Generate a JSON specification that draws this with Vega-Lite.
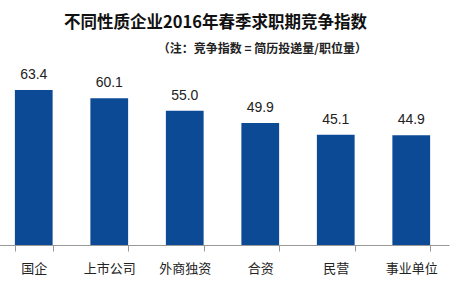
{
  "$schema": "https://vega.github.io/schema/vega-lite/v6.json",
  "autosize": "none",
  "width": 453,
  "height": 171,
  "padding": {"left": -4, "top": 74, "right": 19, "bottom": 41},
  "background": "white",
  "title": {
    "text": "不同性质企业2016年春季求职期竞争指数",
    "subtitle": "（注：竞争指数 = 简历投递量/职位量）",
    "anchor": "end",
    "align": "right",
    "dx": -82,
    "offset": 13,
    "font": "Noto Sans CJK SC",
    "fontSize": 16.5,
    "fontWeight": "bold",
    "color": "#111111",
    "subtitleFont": "Noto Sans CJK SC",
    "subtitleFontSize": 12,
    "subtitleFontWeight": "bold",
    "subtitleColor": "#222222",
    "subtitlePadding": 13
  },
  "data": {
    "values": [
      {"type": "国企", "index": 63.4},
      {"type": "上市公司", "index": 60.1},
      {"type": "外商独资", "index": 55.0},
      {"type": "合资", "index": 49.9},
      {"type": "民营", "index": 45.1},
      {"type": "事业单位", "index": 44.9}
    ]
  },
  "encoding": {
    "x": {
      "field": "type",
      "type": "nominal",
      "sort": null,
      "scale": {"paddingInner": 0.5, "paddingOuter": 0.25},
      "axis": {
        "title": null,
        "labelAngle": 0,
        "labelFont": "Noto Sans CJK SC",
        "labelFontSize": 13,
        "labelColor": "#222222",
        "labelPadding": 11,
        "domainColor": "#999999",
        "tickColor": "#999999",
        "tickBand": "extent",
        "tickSize": 6
      }
    },
    "y": {
      "field": "index",
      "type": "quantitative",
      "scale": {"domain": [0, 70]},
      "axis": null
    }
  },
  "layer": [
    {"mark": {"type": "bar", "color": "#0D4A96"}},
    {
      "mark": {"type": "text", "baseline": "bottom", "dy": -8, "font": "Liberation Sans", "fontSize": 14, "color": "#222222"},
      "encoding": {"text": {"field": "index", "type": "quantitative", "format": ".1f"}}
    }
  ],
  "config": {"view": {"stroke": null}, "axis": {"grid": false}}
}
